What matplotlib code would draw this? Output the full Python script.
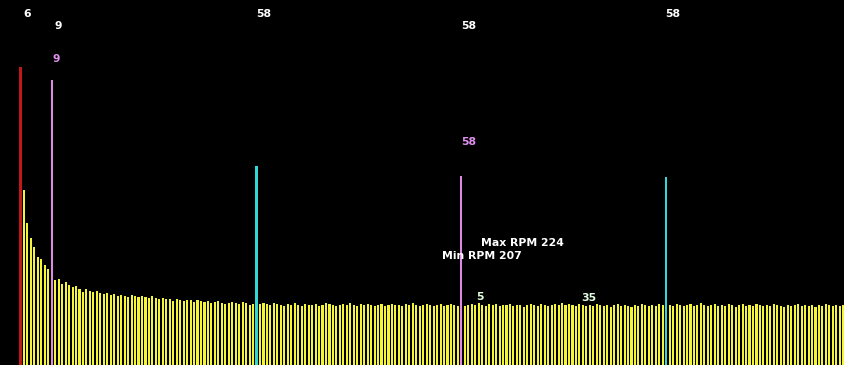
import matplotlib.pyplot as plt
import numpy as np

# bar heights (pixels from the bottom), one bar per revolution
start = [175, 142, 127, 118, 108, 106, 100, 96]
after9 = [85, 86, 81, 83, 80, 78, 79, 76, 73, 76,
          74, 73, 74, 72, 71, 72, 70, 71, 69, 70,
          69, 68, 70, 69, 68, 69, 68, 67, 69, 67,
          66, 67, 66, 66, 64, 66, 65, 64, 65, 65,
          63, 65, 64, 63, 64, 62, 63, 64, 62, 61,
          62, 63, 62, 61, 63, 62, 60, 61]
after68 = [61, 62, 61, 60, 62, 61, 60, 59, 61, 60,
           62, 60, 59, 61, 60, 60, 61, 59, 60, 62,
           61, 60, 59, 60, 61, 60, 62, 60, 59, 61,
           60, 61, 60, 59, 60, 61, 59, 60, 61, 60,
           60, 59, 61, 60, 62, 60, 59, 60, 61, 60,
           59, 60, 61, 59, 60, 61, 60, 59]
after127 = [59, 60, 61, 60, 62, 60, 59, 61, 60, 61,
            59, 60, 60, 61, 59, 60, 60, 58, 60, 61,
            60, 59, 61, 60, 59, 60, 61, 60, 62, 60,
            61, 60, 59, 61, 60, 59, 60, 59, 61, 60,
            59, 60, 58, 60, 61, 59, 60, 59, 58, 60,
            59, 61, 60, 59, 60, 59, 61, 60]
after186 = [60, 59, 61, 60, 59, 60, 61, 59, 60, 62,
            60, 59, 60, 61, 59, 60, 59, 61, 60, 58,
            60, 61, 59, 60, 59, 61, 60, 59, 60, 59,
            61, 60, 59, 58, 60, 59, 60, 61, 59, 60,
            59, 60, 58, 60, 59, 61, 60, 59, 60, 59,
            60]

# marker lines
mark_idx = [0, 9, 68, 127, 186]
mark_h = [298, 285, 199, 189, 188]
mark_col = ['#c01818', '#e088e8', '#30d8d8', '#e088e8', '#30d8d8']
mark_w = [0.95, 0.6, 0.8, 0.55, 0.55]

top_labels = ['6', '9', '58', '58', '58']
top_y = [351, 339, 351, 339, 351]

segments = [start, after9, after68, after127, after186]
idx = []
vals = []
pos = 1
for seg in segments:
    for v in seg:
        idx.append(pos)
        vals.append(v)
        pos += 1
    pos += 1

fig = plt.figure(figsize=(8.45, 3.65), dpi=100)
ax = fig.add_axes([0, 0, 1, 1])
ax.set_facecolor('black')
fig.patch.set_facecolor('black')

ax.bar(idx, vals, width=0.6, color='#f4f43a', align='center')
ax.bar(mark_idx, mark_h, width=mark_w, color=mark_col, align='center')

fs = 7.8
for i, t, y in zip(mark_idx, top_labels, top_y):
    ax.text(i + 2.0, y, t, color='white', fontsize=fs, fontweight='bold',
            ha='center', va='center')

ax.text(9 + 1.3, 306, '9', color='#e090f0', fontsize=fs, fontweight='bold',
        ha='center', va='center')
ax.text(127 + 2.2, 223, '58', color='#e090f0', fontsize=fs, fontweight='bold',
        ha='center', va='center')

ax.text(132.7, 122, 'Max RPM 224', color='white', fontsize=fs, fontweight='bold',
        ha='left', va='center')
ax.text(121.5, 109, 'Min RPM 207', color='white', fontsize=fs, fontweight='bold',
        ha='left', va='center')
ax.text(132.3, 68, '5', color='#e0ffe0', fontsize=fs, fontweight='bold',
        ha='center', va='center')
ax.text(163.8, 67, '35', color='#e0ffe0', fontsize=fs, fontweight='bold',
        ha='center', va='center')

ax.set_xlim(-5.9, 237.5)
ax.set_ylim(0, 365)
ax.axis('off')

plt.savefig('out.png', dpi=100, facecolor='black')
